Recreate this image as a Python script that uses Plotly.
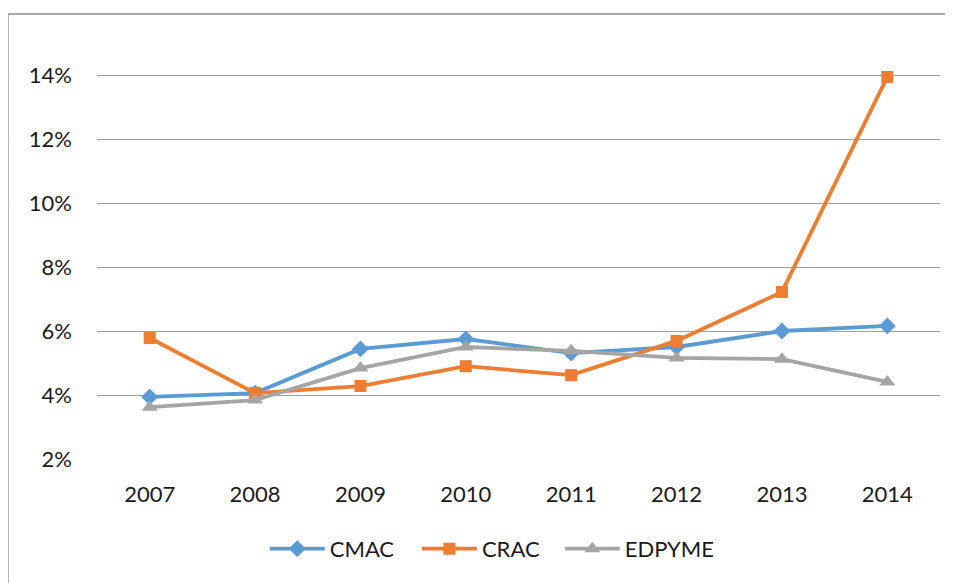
import plotly.graph_objects as go

years = ["2007", "2008", "2009", "2010", "2011", "2012", "2013", "2014"]
cmac = [3.94, 4.06, 5.44, 5.75, 5.31, 5.50, 6.00, 6.16]
crac = [5.78, 4.06, 4.28, 4.90, 4.62, 5.69, 7.22, 13.94]
edpyme = [3.62, 3.84, 4.84, 5.50, 5.38, 5.16, 5.12, 4.41]

y_ticks = [2, 4, 6, 8, 10, 12, 14]
y_tick_text = ["2%", "4%", "6%", "8%", "10%", "12%", "14%"]

FONT = "Lato, Calibri, Carlito, sans-serif"

fig = go.Figure()
series = [
    ("CMAC", cmac, "#5B9BD5", "diamond", 13, "legend", 0.199),
    ("CRAC", crac, "#ED7D31", "square", 12, "legend2", 0.3795),
    ("EDPYME", edpyme, "#A5A5A5", "triangle-up", 14, "legend3", 0.549),
]
for name, vals, color, sym, size, leg, _ in series:
    fig.add_trace(go.Scatter(
        x=years, y=vals, name=name, mode="lines+markers",
        line=dict(color=color, width=3.8),
        marker=dict(symbol=sym, size=size, color=color, line=dict(width=0)),
        cliponaxis=False, legend=leg,
    ))

# outer chart border (left and top visible)
fig.add_shape(type="line", xref="paper", yref="paper",
              x0=-0.1056, x1=-0.1056, y0=1.0697, y1=-0.31,
              line=dict(color="#8c8c8c", width=1.3))
fig.add_shape(type="line", xref="paper", yref="paper",
              x0=-0.1056, x1=1.03, y0=1.0697, y1=1.0697,
              line=dict(color="#8c8c8c", width=1.3))

legend_common = dict(orientation="h", xanchor="left", y=-0.216, yanchor="middle",
                     font=dict(family=FONT, size=22, color="#1a1a1a"),
                     itemwidth=55, itemsizing="trace", bgcolor="rgba(0,0,0,0)")
layout_legends = {}
for name, vals, color, sym, size, leg, lx in series:
    layout_legends[leg] = dict(legend_common, x=lx)

fig.update_layout(
    width=945, height=575,
    margin=dict(l=89, r=13, t=35, b=124),
    paper_bgcolor="white", plot_bgcolor="white",
    font=dict(family=FONT, size=22, color="#1a1a1a"),
    showlegend=True,
    xaxis=dict(type="category", range=[-0.5, 7.5], showgrid=False, zeroline=False,
               showline=False, ticks="", ticklabelstandoff=20,
               tickfont=dict(family=FONT, size=22, color="#1a1a1a")),
    yaxis=dict(range=[2, 15], tickvals=y_ticks, ticktext=y_tick_text,
               showgrid=True, gridcolor="#a0a0a0", gridwidth=1.3,
               zeroline=False, showline=False, ticks="", ticklabelstandoff=24,
               tickfont=dict(family=FONT, size=22, color="#1a1a1a")),
    **layout_legends,
)

fig.write_html("out.html")
